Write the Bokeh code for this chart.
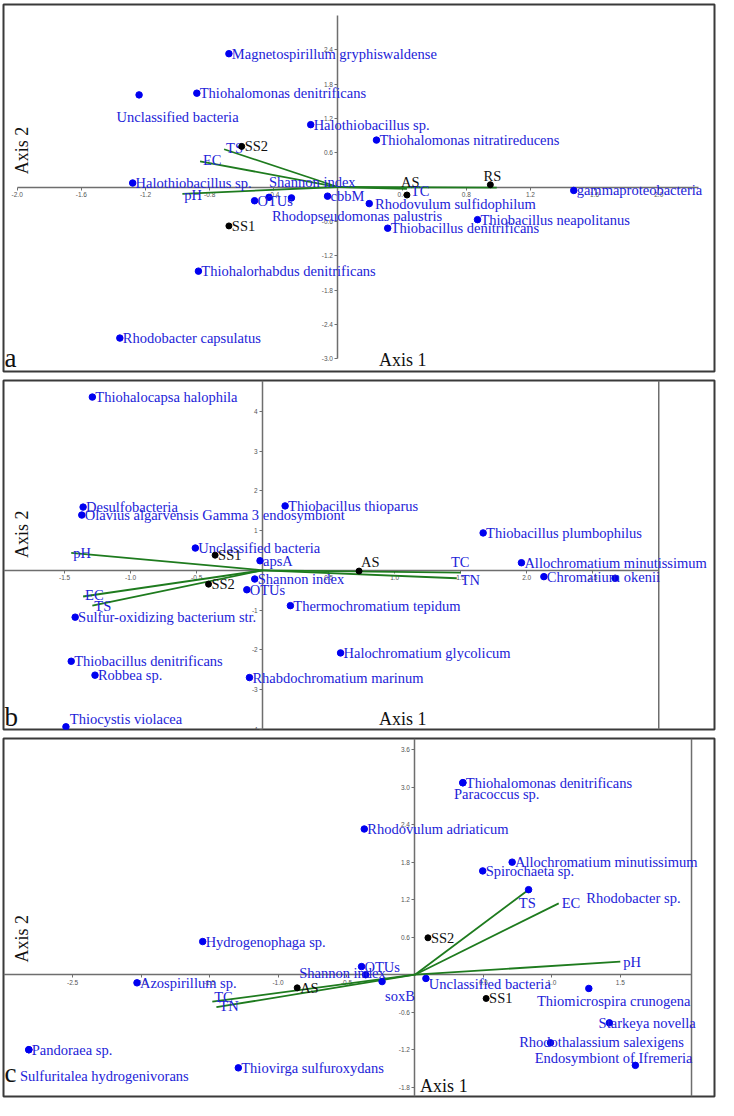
import numpy as np
from bokeh.plotting import figure
from bokeh.layouts import column
from bokeh.models import (LinearAxis, FixedTicker, PrintfTickFormatter, Span,
                          ColumnDataSource, Range1d)
from bokeh.embed import file_html
from bokeh.resources import INLINE
from bokeh.core.properties import value

# ======================= DATA =======================
# ---- panel a ----
a_species = ["Magnetospirillum gryphiswaldense", "Thiohalomonas denitrificans",
             "Unclassified bacteria", "Halothiobacillus sp.", "Thiohalomonas nitratireducens",
             "Halothiobacillus sp.", "OTUs", "Shannon index", "Rhodopseudomonas palustris",
             "cbbM", "Rhodovulum sulfidophilum", "Thiobacillus neapolitanus",
             "Thiobacillus denitrificans", "gammaproteobacteria",
             "Thiohalorhabdus denitrificans", "Rhodobacter capsulatus"]
a_sp_x = [-0.68, -0.88, -1.24, -0.17, 0.24, -1.28, -0.52, -0.43, -0.29, -0.065, 0.195,
          0.87, 0.31, 1.47, -0.87, -1.36]
a_sp_y = [2.33, 1.64, 1.61, 1.09, 0.82, 0.07, -0.24, -0.18, -0.19, -0.16, -0.29,
          -0.57, -0.72, -0.06, -1.47, -2.64]
a_samples = ["SS2", "SS1", "AS", "RS"]
a_sa_x = [-0.60, -0.68, 0.43, 0.95]
a_sa_y = [0.71, -0.68, -0.14, 0.04]
a_vectors = ["TS", "EC", "pH", "TC", ""]
a_vec_x = [-0.71, -0.86, -0.97, 0.43, 0.99]
a_vec_y = [0.66, 0.45, -0.12, -0.03, -0.01]
a_xticks = [-2.0, -1.6, -1.2, -0.8, -0.4, 0.4, 0.8, 1.2, 1.6, 2.0]
a_yticks = [-3.0, -2.4, -1.8, -1.2, -0.6, 0.6, 1.2, 1.8, 2.4]

# ---- panel b ----
b_species = ["Thiohalocapsa halophila", "Desulfobacteria",
             "Olavius algarvensis Gamma 3 endosymbiont", "Thiobacillus thioparus",
             "Thiobacillus plumbophilus", "Unclassified bacteria", "apsA", "Shannon index",
             "OTUs", "Thermochromatium tepidum", "Sulfur-oxidizing bacterium str.",
             "Halochromatium glycolicum", "Thiobacillus denitrificans", "Robbea sp.",
             "Rhabdochromatium marinum", "Thiocystis violacea",
             "Allochromatium minutissimum", "Chromatium okenii", ""]
b_sp_x = [-1.29, -1.36, -1.37, 0.17, 1.67, -0.51, -0.02, -0.06, -0.12, 0.21, -1.42,
          0.59, -1.45, -1.27, -0.10, -1.49, 1.96, 2.13, 2.67]
b_sp_y = [4.36, 1.59, 1.39, 1.62, 0.94, 0.56, 0.24, -0.22, -0.49, -0.89, -1.18,
          -2.08, -2.29, -2.64, -2.70, -3.94, 0.19, -0.16, -0.20]
b_samples = ["SS1", "SS2", "AS"]
b_sa_x = [-0.36, -0.41, 0.73]
b_sa_y = [0.38, -0.35, -0.02]
b_vectors = ["pH", "EC", "TS", "TC", "TN"]
b_vec_x = [-1.45, -1.36, -1.29, 1.50, 1.47]
b_vec_y = [0.44, -0.66, -0.89, -0.06, -0.20]
b_xticks = [-1.5, -1.0, -0.5, 0.5, 1.0, 1.5, 2.0, 2.5]
b_yticks = [-4, -3, -2, -1, 1, 2, 3, 4]

# ---- panel c ----
c_species = ["Thiohalomonas denitrificans", "Paracoccus sp.", "Rhodovulum adriaticum",
             "Allochromatium minutissimum", "Spirochaeta sp.", "Rhodobacter sp.",
             "Hydrogenophaga sp.", "Azospirillum sp.", "OTUs", "Shannon index", "soxB",
             "Unclassified bacteria", "Thiomicrospira crunogena", "Starkeya novella",
             "Rhodothalassium salexigens", "Endosymbiont of Ifremeria", "Pandoraea sp.",
             "Sulfuritalea hydrogenivorans", "Thiovirga sulfuroxydans"]
c_sp_x = [0.35, 0.35, -0.37, 0.71, 0.495, 0.83, -1.55, -2.03, -0.39, -0.36, -0.24,
          0.08, 1.27, 1.42, 0.99, 1.61, -2.82, -2.82, -1.29]
c_sp_y = [3.07, 3.07, 2.33, 1.80, 1.66, 1.36, 0.53, -0.13, 0.13, 0.0, -0.11,
          -0.06, -0.22, -0.77, -1.09, -1.45, -1.20, -1.20, -1.49]
c_samples = ["SS2", "SS1", "AS"]
c_sa_x = [0.095, 0.52, -0.86]
c_sa_y = [0.59, -0.38, -0.21]
c_vectors = ["TS", "EC", "pH", "TC", "TN"]
c_vec_x = [0.83, 1.05, 1.50, -1.48, -1.45]
c_vec_y = [1.36, 1.14, 0.21, -0.43, -0.52]
c_xticks = [-2.5, -2.0, -1.5, -1.0, -0.5, 0.5, 1.0, 1.5]
c_yticks = [-1.8, -1.2, -0.6, 0.6, 1.2, 1.8, 2.4, 3.0, 3.6]

# ================== LABEL OFFSETS (px, reference scale) ==================
a_sp_dx = [3, 3, -23, 3, 3, 3, 3, 0, -20, 3, 6, 3, 3, 3, 3, 3]
a_sp_dy = [0, 0, 22, 0, 0, 0, 0, -16, 18, 0, 0, 0, 0, 0, 0, 0]
a_sa_dx = [3, 3, -6, -7]
a_sa_dy = [0, 0, -13, -9]
a_vec_dx = [2, 3, 2, 4, 0]
a_vec_dy = [-1, -1, 1, 2, 0]

b_sp_dx = [3] * 15 + [4, 3, 3, 3]
b_sp_dy = [0] * 15 + [-8, 0, 0, 0]
b_sa_dx = [3, 3, 2]
b_sa_dy = [0, 0, -9]
b_vec_dx = [2, 2, 2, -10, 4]
b_vec_dy = [0, -2, 0, -11, 2]

c_sp_dx = [3, -9, 3, 3, 3, 59, 3, 3, 3, -68, 3, 3, -53, -11, -32, -103, 3, -9, 3]
c_sp_dy = [0, 11, 0, 0, 0, 8, 0, 0, 0, -2, 15, 6, 13, 0, -1, -7, 0, 27, 0]
c_sa_dx = [3, 3, 3]
c_sa_dy = [0, 0, 0]
c_vec_dx = [-10, 3, 3, 2, 3]
c_vec_dy = [14, 0, 0, -5, -1]

# ======================= STYLE / GEOMETRY =======================
SX = 718 / 734
SY = 1100 / 1116
SERIF = "Liberation Serif"
BLUE_TXT = "#2222D8"
BLUE_DOT = "#0000F0"
GREEN = "#1E7B1E"
AXIS_C = "#6E6E6E"
FRAME_C = "#3A3A3A"
FS = "14.5px"

# reference-pixel geometry of each panel
cfg_a = dict(top=0, bot=381, box=(3, 730, 4, 376), origin=(345, 189), k=(164, 58),
             xb=(-2.0, 2.25), yb=(-3.0, 3.0), fx="%.1f", fy="%.1f", vline=None,
             ax1=(387, 364), ax2=(22, 152), letter=("a", 4, 362))
cfg_b = dict(top=381, bot=745, box=(3, 730, 386, 740), origin=(268, 578.5), k=(135, 40.3),
             xb=None, yb=None, fx="%.1f", fy="%d", vline=3.0,
             ax1=(387, 729), ax2=(22, 542), letter=("b", 4, 727))
cfg_c = dict(top=745, bot=1116, box=(3, 730, 749, 1112), origin=(423.7, 988.5), k=(140, 63.4),
             xb=None, yb=None, fx="%.1f", fy="%.1f", vline=2.02,
             ax1=(429, 1101), ax2=(22, 952), letter=("c", 4, 1088))


def build(cfg, species, spx, spy, spdx, spdy, samples, sax, say, sadx, sady,
          vecs, vx, vy, vdx, vdy, xticks, yticks):
    L, R, T, B = cfg["box"]
    ox, oy = cfg["origin"]
    kx, ky = cfg["k"]
    top_px = round(cfg["top"] * SY)
    bot_px = round(cfg["bot"] * SY)
    h = bot_px - top_px
    bl = round(L * SX)
    br = 718 - round(R * SX)
    bt = round(T * SY) - top_px
    bb = bot_px - round(B * SY)
    x0, x1 = (L - ox) / kx, (R - ox) / kx
    y0, y1 = (oy - B) / ky, (oy - T) / ky

    def d(rx, ry):
        return (rx - ox) / kx, (oy - ry) / ky

    p = figure(width=718, height=h, x_range=Range1d(x0, x1), y_range=Range1d(y0, y1),
               x_axis_type=None, y_axis_type=None, tools="", toolbar_location=None,
               output_backend="svg", min_border_left=bl, min_border_right=br,
               min_border_top=bt, min_border_bottom=bb)
    p.outline_line_color = FRAME_C
    p.outline_line_width = 2
    p.background_fill_color = "white"
    p.border_fill_color = "white"

    axis_kw = dict(axis_line_color=AXIS_C, axis_line_width=1.5,
                   major_tick_line_color=AXIS_C, major_tick_line_width=1,
                   major_tick_in=0, major_tick_out=3, minor_tick_line_color=None,
                   major_label_text_font_size="6.5px", major_label_text_color="#555555",
                   major_label_text_font="Liberation Sans", major_label_standoff=2,
                   level="underlay")
    xb = cfg["xb"] if cfg["xb"] else (x0, cfg["vline"])
    yb = cfg["yb"] if cfg["yb"] else (y0, y1)
    xa = LinearAxis(fixed_location=0, bounds=xb, ticker=FixedTicker(ticks=xticks),
                    formatter=PrintfTickFormatter(format=cfg["fx"]), **axis_kw)
    ya = LinearAxis(fixed_location=0, bounds=yb, ticker=FixedTicker(ticks=yticks),
                    formatter=PrintfTickFormatter(format=cfg["fy"]), **axis_kw)
    p.add_layout(xa, "below")
    p.add_layout(ya, "left")

    if cfg["vline"] is not None:
        p.add_layout(Span(location=cfg["vline"], dimension="height", line_color=AXIS_C,
                          line_width=1.5, level="underlay"))

    # environmental vectors
    vsrc = ColumnDataSource(dict(x=vx, y=vy, name=vecs,
                                 dx=[v * SX for v in vdx], dy=[v * SY for v in vdy]))
    p.segment(x0=0, y0=0, x1="x", y1="y", source=vsrc, line_color=GREEN, line_width=1.8)
    p.text(x="x", y="y", text="name", x_offset="dx", y_offset="dy", source=vsrc,
           text_font=value(SERIF), text_font_size=FS, text_color=BLUE_TXT,
           text_baseline="middle", text_align="left")

    # species
    ssrc = ColumnDataSource(dict(x=spx, y=spy, name=species,
                                 dx=[v * SX for v in spdx], dy=[v * SY for v in spdy]))
    p.scatter(x="x", y="y", source=ssrc, size=6.5, color=BLUE_DOT)
    p.text(x="x", y="y", text="name", x_offset="dx", y_offset="dy", source=ssrc,
           text_font=value(SERIF), text_font_size=FS, text_color=BLUE_TXT,
           text_baseline="middle", text_align="left")

    # samples
    asrc = ColumnDataSource(dict(x=sax, y=say, name=samples,
                                 dx=[v * SX for v in sadx], dy=[v * SY for v in sady]))
    p.scatter(x="x", y="y", source=asrc, size=6, color="black")
    p.text(x="x", y="y", text="name", x_offset="dx", y_offset="dy", source=asrc,
           text_font=value(SERIF), text_font_size=FS, text_color="#111111",
           text_baseline="middle", text_align="left")

    # axis titles and panel letter
    ax1x, ax1y = d(*cfg["ax1"])
    p.text(x=[ax1x], y=[ax1y], text=["Axis 1"], text_font=value(SERIF),
           text_font_size="18px", text_color="#111111", text_baseline="middle",
           text_align="left")
    ax2x, ax2y = d(*cfg["ax2"])
    p.text(x=[ax2x], y=[ax2y], text=["Axis 2"], angle=np.pi / 2, text_font=value(SERIF),
           text_font_size="18px", text_color="#111111", text_baseline="middle",
           text_align="center")
    lt, lx, ly = cfg["letter"]
    lxd, lyd = d(lx, ly)
    p.text(x=[lxd], y=[lyd], text=[lt], text_font=value(SERIF), text_font_size="27px",
           text_color="#111111", text_baseline="middle", text_align="left")
    return p


pa = build(cfg_a, a_species, a_sp_x, a_sp_y, a_sp_dx, a_sp_dy, a_samples, a_sa_x, a_sa_y,
           a_sa_dx, a_sa_dy, a_vectors, a_vec_x, a_vec_y, a_vec_dx, a_vec_dy,
           a_xticks, a_yticks)
pb = build(cfg_b, b_species, b_sp_x, b_sp_y, b_sp_dx, b_sp_dy, b_samples, b_sa_x, b_sa_y,
           b_sa_dx, b_sa_dy, b_vectors, b_vec_x, b_vec_y, b_vec_dx, b_vec_dy,
           b_xticks, b_yticks)
pc = build(cfg_c, c_species, c_sp_x, c_sp_y, c_sp_dx, c_sp_dy, c_samples, c_sa_x, c_sa_y,
           c_sa_dx, c_sa_dy, c_vectors, c_vec_x, c_vec_y, c_vec_dx, c_vec_dy,
           c_xticks, c_yticks)

layout = column(pa, pb, pc, spacing=0)
open("out.html", "w").write(file_html(layout, INLINE))
